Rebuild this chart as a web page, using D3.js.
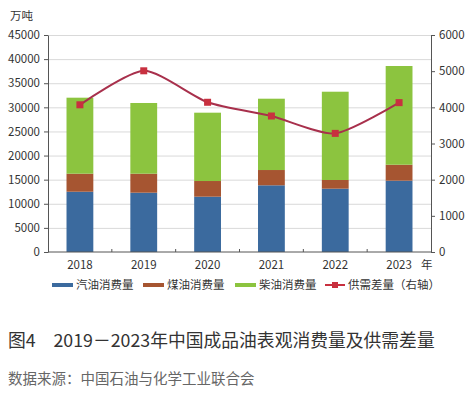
<!DOCTYPE html>
<meta charset="utf-8">
<html>
<head>
<style>
  body { margin: 0; background: #fff; }
  text { font-family: "Noto Sans CJK SC", "Noto Sans", sans-serif; fill: #333; }
  .grid line { stroke: #d9d9d9; stroke-width: 1px; }
</style>
<script src="https://cdn.jsdelivr.net/npm/d3@7"></script>
</head>
<body>
<div id="chart"></div>
<script>
// data
var years = ["2018", "2019", "2020", "2021", "2022", "2023"];
var gasoline = [12500, 12300, 11470, 13830, 13130, 14790];
var kerosene = [3740, 3940, 3250, 3170, 1800, 3310];
var diesel = [15760, 14660, 14170, 14790, 18310, 20470];
var gap = [4070, 5010, 4140, 3760, 3280, 4130];
var leftTicks = [0, 5000, 10000, 15000, 20000, 25000, 30000, 35000, 40000, 45000];
var rightTicks = [0, 1000, 2000, 3000, 4000, 5000, 6000];
var seriesNames = ["汽油消费量", "煤油消费量", "柴油消费量", "供需差量（右轴）"];
var colors = ["#3b6a9e", "#a65531", "#8cc43f", "#c8303f"];

var W = 472, H = 394;
var margin = { top: 35, right: 41, bottom: 142, left: 48 };
var width = W - margin.left - margin.right,
    height = H - margin.top - margin.bottom;

var svg = d3.select("#chart").append("svg")
    .attr("width", W).attr("height", H);
var g = svg.append("g")
    .attr("transform", "translate(" + margin.left + "," + margin.top + ")");

var x = d3.scaleBand().domain(years).range([0, width]).paddingInner(0.58).paddingOuter(0.29);
var y = d3.scaleLinear().domain([0, 45000]).range([height, 0]);
var y2 = d3.scaleLinear().domain([0, 6000]).range([height, 0]);

// gridlines
g.append("g").attr("class", "grid")
  .selectAll("line").data(leftTicks.slice(1)).enter().append("line")
  .attr("x1", 0).attr("x2", width)
  .attr("y1", function(d) { return y(d) + 0.5; })
  .attr("y2", function(d) { return y(d) + 0.5; });

// stacked bars
var rows = years.map(function(yr, i) {
  return { year: yr, g: gasoline[i], k: kerosene[i], d: diesel[i] };
});
var stack = d3.stack().keys(["g", "k", "d"])(rows);
g.selectAll(".layer").data(stack).enter().append("g")
  .attr("fill", function(d, i) { return colors[i]; })
  .selectAll("rect").data(function(d) { return d; }).enter().append("rect")
  .attr("x", function(d) { return x(d.data.year); })
  .attr("width", x.bandwidth())
  .attr("y", function(d) { return y(d[1]); })
  .attr("height", function(d) { return y(d[0]) - y(d[1]); });

// axes
function styleAxis(sel) {
  sel.selectAll("path").attr("stroke", "#555");
  sel.selectAll("line").attr("stroke", "#555");
  sel.selectAll("text").style("font-size", "11.5px").attr("fill", "#333");
}
g.append("g")
  .call(d3.axisLeft(y).tickValues(leftTicks).tickFormat(d3.format("d"))
    .tickSizeInner(4).tickSizeOuter(0).tickPadding(4))
  .call(styleAxis);
g.append("g").attr("transform", "translate(" + width + ",0)")
  .call(d3.axisRight(y2).tickValues(rightTicks).tickFormat(d3.format("d"))
    .tickSizeInner(4).tickSizeOuter(0).tickPadding(4))
  .call(styleAxis);

var xAxis = g.append("g").attr("transform", "translate(0," + height + ")");
xAxis.append("line").attr("x1", 0).attr("x2", width).attr("stroke", "#555");
xAxis.selectAll(".sep").data(years.slice(1)).enter().append("line")
  .attr("x1", function(d) { return x(d) - x.step() * x.paddingInner() / 2; })
  .attr("x2", function(d) { return x(d) - x.step() * x.paddingInner() / 2; })
  .attr("y1", 0).attr("y2", -3).attr("stroke", "#555");
xAxis.selectAll(".lbl").data(years).enter().append("text")
  .attr("x", function(d) { return x(d) + x.bandwidth() / 2; })
  .attr("y", 17).attr("text-anchor", "middle").style("font-size", "11.5px")
  .text(function(d) { return d; });
xAxis.append("text").attr("x", width - 10).attr("y", 17).style("font-size", "11.5px").text("年");

// unit
svg.append("text").attr("x", 10).attr("y", 20).style("font-size", "11.5px").text("万吨");

// gap line
var line = d3.line()
  .x(function(d, i) { return x(years[i]) + x.bandwidth() / 2; })
  .y(function(d) { return y2(d); })
  .curve(d3.curveCardinal.tension(0.3));
g.append("path").datum(gap).attr("d", line)
  .attr("fill", "none").attr("stroke", "#a8304c").attr("stroke-width", 2);
g.selectAll(".mk").data(gap).enter().append("rect")
  .attr("x", function(d, i) { return x(years[i]) + x.bandwidth() / 2 - 3.5; })
  .attr("y", function(d) { return y2(d) - 3.5; })
  .attr("width", 7).attr("height", 7).attr("fill", colors[3]);

// legend
var legX = [52, 143, 235, 325];
var legY = 285;
var leg = svg.selectAll(".leg").data(seriesNames).enter().append("g")
  .attr("transform", function(d, i) { return "translate(" + legX[i] + "," + legY + ")"; });
leg.each(function(d, i) {
  var s = d3.select(this);
  if (i < 3) {
    s.append("rect").attr("x", 0).attr("y", -2).attr("width", 21).attr("height", 4).attr("fill", colors[i]);
  } else {
    s.append("line").attr("x1", 0).attr("x2", 20).attr("y1", 0).attr("y2", 0)
      .attr("stroke", colors[3]).attr("stroke-width", 2);
    s.append("rect").attr("x", 7).attr("y", -3).attr("width", 6).attr("height", 6).attr("fill", colors[3]);
  }
  s.append("text").attr("x", i < 3 ? 24 : 23).attr("y", 4).style("font-size", "11.5px").text(d);
});

// caption
svg.append("text").attr("x", 8).attr("y", 347).style("font-size", "17.8px").attr("fill", "#333")
  .text("图4\u30002019－2023年中国成品油表观消费量及供需差量");
svg.append("text").attr("x", 8).attr("y", 384).style("font-size", "14.5px").style("fill", "#666")
  .text("数据来源：中国石油与化学工业联合会");
</script>
</body>
</html>
